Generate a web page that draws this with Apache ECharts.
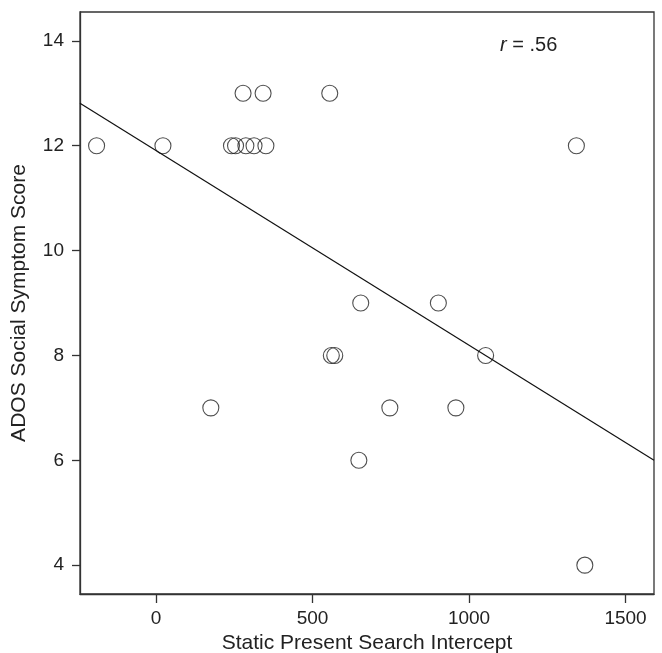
<!DOCTYPE html>
<html>
<head>
<meta charset="utf-8">
<script src="https://cdn.jsdelivr.net/npm/echarts@6/dist/echarts.min.js"></script>
<style>
  html, body { margin: 0; padding: 0; background: #fff; }
  #main { width: 662px; height: 653px; }
</style>
</head>
<body>
<div id="main"></div>
<script>
// Static Present Search Intercept (x) vs ADOS social symptom score (y)
const interceptX = [-190, 22, 241, 254, 287, 313, 351, 1343,
                    278, 342, 555,
                    654, 902,
                    560, 571, 1053,
                    175, 747, 958,
                    648,
                    1370]
const adosY = [12, 12, 12, 12, 12, 12, 12, 12,
               13, 13, 13,
               9, 9,
               8, 8, 8,
               7, 7, 7,
               6,
               4]

// fitted regression line at the axis ends
const fitX = [-243, 1591]
const fitY = [12.81, 6.0]

const rLabel = '.56'

const points = interceptX.map((x, i) => [x, adosY[i]])
const fitLine = fitX.map((x, i) => [x, fitY[i]])

const axisColor = '#333'
const textColor = '#222'
const font = '"Liberation Sans", Arial, sans-serif'

const chart = echarts.init(document.getElementById('main'))
chart.setOption({
  animation: false,
  textStyle: { fontFamily: font },
  grid: {
    left: 80,
    top: 12,
    right: 8,
    bottom: 59,
    outerBoundsMode: 'none',
    containLabel: false,
    show: true,
    borderColor: axisColor,
    borderWidth: 1.3
  },
  xAxis: {
    type: 'value',
    min: -243,
    max: 1591,
    splitNumber: 4,
    name: 'Static Present Search Intercept',
    nameLocation: 'middle',
    nameGap: 36,
    nameTextStyle: { color: textColor, fontSize: 21, fontFamily: font },
    axisLine: { show: true, onZero: false, lineStyle: { color: axisColor, width: 1.3 } },
    axisTick: { show: true, length: 9, lineStyle: { color: axisColor, width: 1.3 } },
    axisLabel: {
      color: textColor, fontSize: 19, margin: 15, fontFamily: font,
      showMinLabel: false, showMaxLabel: false,
      formatter: v => String(v)
    },
    splitLine: { show: false }
  },
  yAxis: {
    type: 'value',
    min: 3.45,
    max: 14.55,
    splitNumber: 5,
    name: 'ADOS Social Symptom Score',
    nameLocation: 'middle',
    nameGap: 50,
    nameTextStyle: { color: textColor, fontSize: 21, fontFamily: font },
    axisLine: { show: true, onZero: false, lineStyle: { color: axisColor, width: 1.3 } },
    axisTick: { show: true, length: 8, lineStyle: { color: axisColor, width: 1.3 } },
    axisLabel: {
      color: textColor, fontSize: 19, margin: 16, fontFamily: font,
      showMinLabel: false, showMaxLabel: false
    },
    splitLine: { show: false }
  },
  graphic: [
    {
      type: 'text',
      left: 500,
      top: 35,
      style: {
        text: '{i|r} = ' + rLabel,
        fill: textColor,
        font: '20px ' + font,
        rich: {
          i: { fontStyle: 'italic', fontSize: 20, fill: textColor, fontFamily: font }
        }
      }
    }
  ],
  series: [
    {
      type: 'line',
      data: fitLine,
      symbol: 'none',
      silent: true,
      lineStyle: { color: '#111', width: 1.2 }
    },
    {
      type: 'scatter',
      data: points,
      symbol: 'circle',
      symbolSize: 16,
      itemStyle: { color: 'rgba(0,0,0,0)', borderColor: '#222', borderWidth: 1.1 }
    }
  ]
})
</script>
</body>
</html>
